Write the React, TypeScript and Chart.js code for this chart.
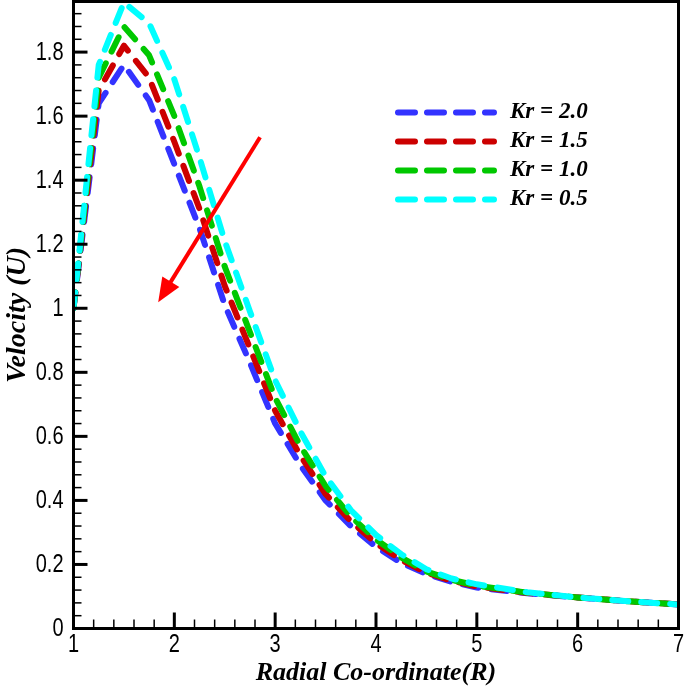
import React, { useEffect, useRef } from 'react';
import { Chart, registerables } from 'chart.js';

Chart.register(...registerables);

// ---------- data ----------
const R_VALUES = [1, 1.25, 1.5, 1.75, 2, 2.25, 2.5, 2.75, 3, 3.25, 3.5, 3.75, 4, 4.25, 4.5, 4.75, 5, 5.5, 6, 6.5, 7];
const U_KR_20 = [1.0, 1.64, 1.76, 1.65, 1.45, 1.25, 1.01, 0.83, 0.64, 0.51, 0.40, 0.32, 0.255, 0.205, 0.17, 0.146, 0.128, 0.11, 0.097, 0.085, 0.075];
const U_KR_15 = [1.0, 1.68, 1.82, 1.72, 1.52, 1.31, 1.07, 0.875, 0.68, 0.54, 0.42, 0.335, 0.266, 0.214, 0.174, 0.149, 0.131, 0.111, 0.097, 0.085, 0.075];
const U_KR_10 = [1.0, 1.72, 1.88, 1.79, 1.60, 1.38, 1.13, 0.925, 0.72, 0.57, 0.445, 0.35, 0.278, 0.222, 0.178, 0.152, 0.134, 0.112, 0.097, 0.085, 0.075];
const U_KR_05 = [1.0, 1.76, 1.955, 1.89, 1.715, 1.47, 1.21, 0.99, 0.775, 0.615, 0.475, 0.37, 0.292, 0.232, 0.185, 0.156, 0.138, 0.113, 0.097, 0.085, 0.075];

const SERIES = [U_KR_20, U_KR_15, U_KR_10, U_KR_05];
const SERIES_LABELS = ['Kr = 2.0', 'Kr = 1.5', 'Kr = 1.0', 'Kr = 0.5'];
const SERIES_COLORS = ['#3333ff', '#cc0000', '#00c800', '#00ffff'];

const X_TICKS = [1, 2, 3, 4, 5, 6, 7];
const X_TICK_LABELS = ['1', '2', '3', '4', '5', '6', '7'];
const Y_TICKS = [0, 0.2, 0.4, 0.6, 0.8, 1.0, 1.2, 1.4, 1.6, 1.8];
const Y_TICK_LABELS = ['0', '0.2', '0.4', '0.6', '0.8', '1', '1.2', '1.4', '1.6', '1.8'];
const X_MIN = 1;
const X_MAX = 7;
const Y_MIN = 0;
const Y_MAX = 1.958;
const X_MINOR_STEP = 0.2;
const Y_MINOR_STEP = 0.04;

const X_TITLE = 'Radial Co-ordinate(R)';
const Y_TITLE = 'Velocity (U)';

// annotation arrow (data coordinates)
const ARROW_FROM = [2.85, 1.534];
const ARROW_TO = [1.84, 1.019];

const TICK_FAMILY = "'Liberation Sans', Arial, sans-serif";
const SERIF_FAMILY = "'Liberation Serif', 'Times New Roman', serif";

// draws text condensed horizontally (the reference uses a narrow sans face)
function narrowText(ctx: CanvasRenderingContext2D, text: string, x: number, y: number, align: CanvasTextAlign) {
  ctx.save();
  ctx.translate(x, y);
  ctx.scale(0.8, 1);
  ctx.textAlign = align;
  ctx.fillText(text, 0, 0);
  ctx.restore();
}

const decorPlugin = {
  id: 'decor',
  afterDatasetsDraw(chart: any) {
    const { ctx, chartArea: a, scales } = chart;
    const xs = scales.x;
    const ys = scales.y;
    ctx.save();

    // red arrow
    const x0 = xs.getPixelForValue(ARROW_FROM[0]);
    const y0 = ys.getPixelForValue(ARROW_FROM[1]);
    const x1 = xs.getPixelForValue(ARROW_TO[0]);
    const y1 = ys.getPixelForValue(ARROW_TO[1]);
    const ang = Math.atan2(y1 - y0, x1 - x0);
    const headLen = 24;
    const headHalf = 10;
    const bx = x1 - headLen * Math.cos(ang);
    const by = y1 - headLen * Math.sin(ang);
    ctx.strokeStyle = '#ff0000';
    ctx.fillStyle = '#ff0000';
    ctx.lineWidth = 4;
    ctx.lineCap = 'butt';
    ctx.beginPath();
    ctx.moveTo(x0, y0);
    ctx.lineTo(bx + 4 * Math.cos(ang), by + 4 * Math.sin(ang));
    ctx.stroke();
    ctx.beginPath();
    ctx.moveTo(x1, y1);
    ctx.lineTo(bx + headHalf * Math.sin(ang), by - headHalf * Math.cos(ang));
    ctx.lineTo(bx - headHalf * Math.sin(ang), by + headHalf * Math.cos(ang));
    ctx.closePath();
    ctx.fill();

    // frame
    ctx.strokeStyle = '#000';
    ctx.lineWidth = 3;
    ctx.lineCap = 'square';
    ctx.strokeRect(a.left, a.top, a.right - a.left, a.bottom - a.top);

    // x ticks (inward)
    ctx.lineCap = 'butt';
    const nx = Math.round((X_MAX - X_MIN) / X_MINOR_STEP);
    for (let i = 0; i <= nx; i++) {
      const v = X_MIN + i * X_MINOR_STEP;
      const major = X_TICKS.some((t) => Math.abs(t - v) < 1e-6);
      if (major && (v === X_MIN || Math.abs(v - X_MAX) < 1e-6)) continue;
      const px = xs.getPixelForValue(v);
      ctx.lineWidth = major ? 3 : 1.5;
      ctx.beginPath();
      ctx.moveTo(px, a.bottom);
      ctx.lineTo(px, a.bottom - (major ? 16 : 9));
      ctx.stroke();
    }
    // y ticks (inward)
    const ny = Math.floor((Y_MAX - Y_MIN) / Y_MINOR_STEP + 1e-6);
    for (let i = 1; i <= ny; i++) {
      const v = Y_MIN + i * Y_MINOR_STEP;
      const major = Y_TICKS.some((t) => Math.abs(t - v) < 1e-6);
      const py = ys.getPixelForValue(v);
      ctx.lineWidth = major ? 3 : 1.5;
      ctx.beginPath();
      ctx.moveTo(a.left, py);
      ctx.lineTo(a.left + (major ? 14 : 8), py);
      ctx.stroke();
    }

    // tick labels
    ctx.fillStyle = '#000';
    ctx.font = `25px ${TICK_FAMILY}`;
    ctx.textBaseline = 'middle';
    Y_TICKS.forEach((v, i) => {
      narrowText(ctx, Y_TICK_LABELS[i], a.left - 10, ys.getPixelForValue(v) + 1, 'right');
    });
    X_TICKS.forEach((v, i) => {
      narrowText(ctx, X_TICK_LABELS[i], xs.getPixelForValue(v), a.bottom + 17, 'center');
    });

    // legend
    const legX0 = 398;
    const legX1 = 494;
    const legTextX = 510;
    const legY0 = 112.5;
    const legDy = 29;
    ctx.font = `italic bold 23px ${SERIF_FAMILY}`;
    ctx.textBaseline = 'middle';
    ctx.textAlign = 'left';
    SERIES_LABELS.forEach((lab, i) => {
      const ly = legY0 + i * legDy;
      ctx.strokeStyle = SERIES_COLORS[i];
      ctx.lineWidth = 6;
      ctx.lineCap = 'round';
      ctx.setLineDash([17, 12]);
      ctx.beginPath();
      ctx.moveTo(legX0, ly);
      ctx.lineTo(legX1, ly);
      ctx.stroke();
      ctx.setLineDash([]);
      ctx.fillStyle = '#000';
      ctx.fillText(lab, legTextX, ly);
    });

    ctx.restore();
  },
};

export default function App() {
  const canvasRef = useRef<HTMLCanvasElement | null>(null);

  useEffect(() => {
    const canvas = canvasRef.current;
    if (!canvas) return;
    const datasets = SERIES.map((vals, i) => ({
      label: SERIES_LABELS[i],
      data: R_VALUES.map((r, j) => ({ x: r, y: vals[j] })),
      borderColor: SERIES_COLORS[i],
      backgroundColor: SERIES_COLORS[i],
      borderWidth: 6,
      borderDash: [16, 13],
      borderCapStyle: 'round' as const,
      borderJoinStyle: 'round' as const,
      pointRadius: 0,
      tension: 0,
      fill: false,
      order: SERIES.length - i,
    }));

    const chart = new Chart(canvas, {
      type: 'line',
      data: { datasets },
      options: {
        animation: false,
        responsive: false,
        devicePixelRatio: 1,
        events: [],
        layout: { padding: { top: 1.5, right: 6.5, left: 0, bottom: 0 } },
        plugins: {
          legend: { display: false },
          tooltip: { enabled: false },
        },
        scales: {
          x: {
            type: 'linear',
            min: X_MIN,
            max: X_MAX,
            afterBuildTicks: (s: any) => {
              s.ticks = X_TICKS.map((v) => ({ value: v }));
            },
            afterFit: (s: any) => {
              s.height = 62.5;
              s.paddingLeft = 0;
              s.paddingRight = 0;
            },
            grid: { display: false, drawTicks: false },
            border: { display: false },
            ticks: { display: false },
            title: {
              display: true,
              text: X_TITLE,
              color: '#000',
              font: { family: SERIF_FAMILY, size: 26, style: 'italic', weight: 'bold', lineHeight: 1.2 },
              padding: { top: 0, bottom: 2.5 },
            },
          },
          y: {
            type: 'linear',
            min: Y_MIN,
            max: Y_MAX,
            afterBuildTicks: (s: any) => {
              s.ticks = Y_TICKS.map((v) => ({ value: v }));
            },
            afterFit: (s: any) => {
              s.width = 73.5;
              s.paddingTop = 0;
              s.paddingBottom = 0;
            },
            grid: { display: false, drawTicks: false },
            border: { display: false },
            ticks: { display: false },
            title: {
              display: true,
              text: Y_TITLE,
              color: '#000',
              font: { family: SERIF_FAMILY, size: 28, style: 'italic', weight: 'bold', lineHeight: 1.2 },
              padding: { top: 1, bottom: 0 },
            },
          },
        },
      },
      plugins: [decorPlugin],
    } as any);

    return () => {
      chart.destroy();
    };
  }, []);

  return (
    <div style={{ position: 'absolute', left: 0, top: 0, width: 685, height: 691, background: '#fff' }}>
      <canvas ref={canvasRef} width={685} height={691} style={{ display: 'block', width: 685, height: 691 }} />
    </div>
  );
}
